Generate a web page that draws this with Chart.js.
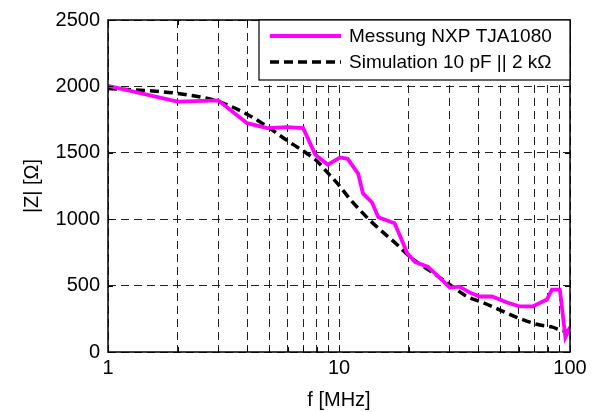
<!DOCTYPE html>
<html>
<head>
<meta charset="utf-8">
<script src="https://cdn.jsdelivr.net/npm/chart.js@4"></script>
<style>
  html, body { margin: 0; padding: 0; background: #fff; }
  #wrap { width: 601px; height: 412px; }
</style>
</head>
<body>
<div id="wrap"><canvas id="myChart"></canvas></div>
<script>
// measured curve (f in MHz, |Z| in Ohm)
const messFreq = [1, 2, 3, 4, 4.9, 5.95, 7, 7.9, 8.95, 10.1, 10.9, 12.1, 12.7, 13.9, 14.8, 17.4, 18.7, 19.7, 21.3, 24.3, 27.3, 30.2, 33.3, 36.8, 40.7, 46, 53.4, 60.6, 69, 79.4, 83.5, 90.4, 95.5, 100];
const messZ = [2005, 1885, 1895, 1723, 1686, 1693, 1686, 1485, 1410, 1465, 1455, 1343, 1194, 1126, 1015, 970, 843, 746, 679, 641, 559, 485, 492, 447, 418, 418, 373, 343, 343, 395, 470, 470, 112, 187];

// simulated curve
const simFreq = [1, 2, 3, 4, 5, 6, 7, 8, 9, 10, 11.1, 13.6, 18.3, 20.3, 25.5, 30.2, 35.8, 41.9, 58.8, 71.8, 84, 93, 100];
const simZ = [1985, 1947, 1887, 1790, 1686, 1589, 1514, 1440, 1343, 1255, 1156, 992, 791, 716, 597, 507, 418, 373, 261, 209, 187, 160, 157];

const xTicks = [1, 2, 3, 4, 5, 6, 7, 8, 9, 10, 20, 30, 40, 50, 60, 70, 80, 90, 100];
const xLabels = [1, 10, 100];
const yTicks = [0, 500, 1000, 1500, 2000, 2500];

const seriesNames = ["Messung NXP TJA1080", "Simulation 10 pF || 2 k\u03A9"];

const FONT = "Liberation Sans, Arial, Helvetica, sans-serif";

const framePlugin = {
  id: "frame",
  afterDraw(chart) {
    const { ctx, chartArea: a, scales } = chart;
    ctx.save();
    // inner tick marks
    ctx.strokeStyle = "#000";
    ctx.lineWidth = 1;
    ctx.beginPath();
    xTicks.forEach(v => {
      const px = Math.round(scales.x.getPixelForValue(v)) + 0.5;
      ctx.moveTo(px, a.bottom); ctx.lineTo(px, a.bottom - 5);
      ctx.moveTo(px, a.top); ctx.lineTo(px, a.top + 5);
    });
    yTicks.forEach(v => {
      const py = Math.round(scales.y.getPixelForValue(v)) + 0.5;
      ctx.moveTo(a.left, py); ctx.lineTo(a.left + 5, py);
      ctx.moveTo(a.right, py); ctx.lineTo(a.right - 5, py);
    });
    ctx.stroke();
    // box
    ctx.lineWidth = 1.5;
    ctx.strokeRect(a.left, a.top, a.right - a.left, a.bottom - a.top);

    // legend in upper right corner
    const w = 311, h = 60;
    const lx = a.right - w, ly = a.top;
    ctx.fillStyle = "#fff";
    ctx.fillRect(lx, ly, w, h);
    ctx.lineWidth = 1.2;
    ctx.strokeRect(lx, ly, w, h);
    ctx.font = "19px " + FONT;
    ctx.textBaseline = "middle";
    chart.data.datasets.forEach((ds, i) => {
      const y = ly + 16 + i * 26;
      ctx.beginPath();
      ctx.strokeStyle = ds.borderColor;
      ctx.lineWidth = ds.borderWidth;
      ctx.setLineDash(ds.borderDash || []);
      ctx.moveTo(lx + 11, y);
      ctx.lineTo(lx + 82, y);
      ctx.stroke();
      ctx.setLineDash([]);
      ctx.fillStyle = "#000";
      ctx.fillText(ds.label, lx + 90, y + 1);
    });
    ctx.restore();
  }
};

const ctx = document.getElementById("myChart").getContext("2d");

new Chart(ctx, {
  type: "line",
  data: {
    datasets: [
      {
        label: seriesNames[0],
        data: messFreq.map((f, i) => ({ x: f, y: messZ[i] })),
        borderColor: "#ff00ff",
        borderWidth: 3.8,
        pointRadius: 0,
        tension: 0,
      },
      {
        label: seriesNames[1],
        data: simFreq.map((f, i) => ({ x: f, y: simZ[i] })),
        borderColor: "#000000",
        borderWidth: 3.5,
        borderDash: [9, 5],
        pointRadius: 0,
        cubicInterpolationMode: "monotone",
      },
    ],
  },
  options: {
    responsive: true,
    maintainAspectRatio: false,
    animation: false,
    layout: { padding: { top: 17, right: 31, left: 0, bottom: 0 } },
    plugins: {
      legend: { display: false },
      tooltip: { enabled: false },
    },
    scales: {
      x: {
        type: "logarithmic",
        min: 1,
        max: 100,
        afterBuildTicks: (scale) => { scale.ticks = xTicks.map(v => ({ value: v })); },
        afterFit: (scale) => { scale.height = 60; },
        ticks: {
          autoSkip: false,
          maxRotation: 0,
          padding: 4,
          color: "#000",
          font: { family: FONT, size: 20 },
          callback: (v) => (xLabels.includes(v) ? String(v) : ""),
        },
        grid: { color: "#222", lineWidth: 1, drawTicks: false },
        border: { display: false, dash: [8, 5] },
        title: {
          display: true,
          text: "f [MHz]",
          color: "#000",
          font: { family: FONT, size: 20 },
          padding: { top: 0, bottom: 0 },
        },
      },
      y: {
        min: 0,
        max: 2500,
        afterBuildTicks: (scale) => { scale.ticks = yTicks.map(v => ({ value: v })); },
        afterFit: (scale) => { scale.width = 108; },
        ticks: {
          padding: 8,
          color: "#000",
          font: { family: FONT, size: 20 },
          callback: (v) => String(v),
        },
        grid: { color: "#222", lineWidth: 1, drawTicks: false },
        border: { display: false, dash: [8, 5] },
        title: {
          display: true,
          text: "|Z| [\u03A9]",
          color: "#000",
          font: { family: FONT, size: 20 },
          padding: { top: 20, bottom: 6 },
        },
      },
    },
  },
  plugins: [framePlugin],
});
</script>
</body>
</html>
